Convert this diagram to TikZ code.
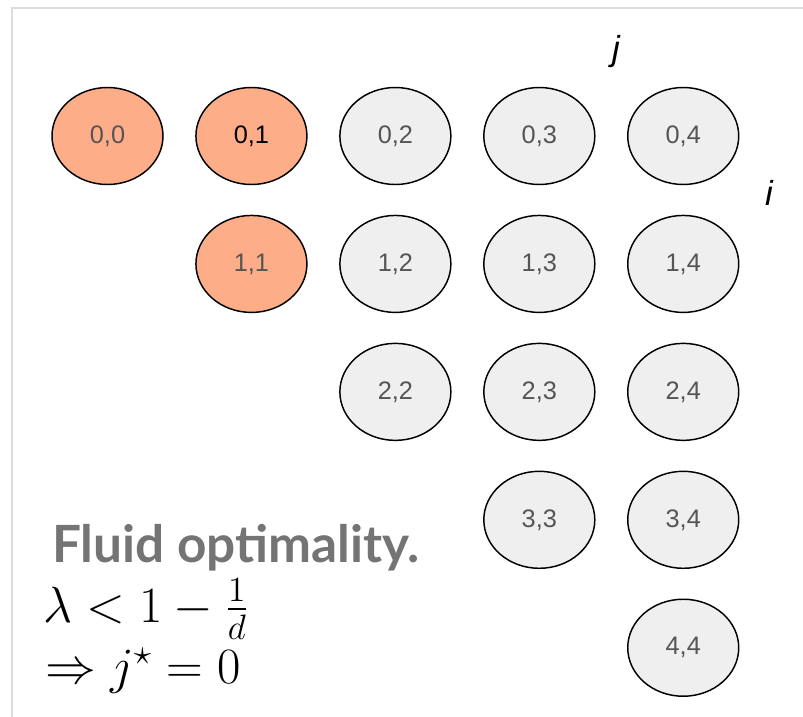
\RequirePackage{fix-cm}
\documentclass[tikz,border=0pt]{standalone}
\usepackage{fontspec}
\setsansfont{Liberation Sans}
\newfontfamily\headfont{Lato}
\usepackage{amsmath}
\usetikzlibrary{positioning, shapes.geometric}
\definecolor{cellgray}{HTML}{EFEFEF}
\definecolor{cellorange}{HTML}{FDAD88}
\definecolor{labelgray}{HTML}{555555}
\definecolor{headgray}{HTML}{747474}
\definecolor{framegray}{HTML}{DCDCDC}

\begin{document}
\begin{tikzpicture}[
		x=0.75pt, y=-0.75pt,
		node distance=22.1pt and 23.6pt,
		cell/.style={ellipse, draw, line width=1.1pt, fill=cellgray, minimum width=83.25pt, minimum height=72.75pt, inner sep=0pt, text=labelgray, font=\sffamily\fontsize{19}{22}\selectfont},
		hot/.style={cell, fill=cellorange},
		axis label/.style={font=\sffamily\itshape\fontsize{26}{30}\selectfont, inner sep=0pt},
		formula/.style={anchor=base west, inner sep=0pt, font=\fontsize{20.74}{25}\selectfont}
	]
	\useasboundingbox (0,0) rectangle (803,717);
	% frame of the slide
	\draw[framegray, line width=1.5pt] (11.5,717) -- (11.5,8.5) -- (803,8.5);

	% row 0
	\node[hot] (n00) at (107.5,136) {0,0};
	\node[hot, text=black, right=of n00] (n01) {0,1};
	\node[cell, right=of n01] (n02) {0,2};
	\node[cell, right=of n02] (n03) {0,3};
	\node[cell, right=of n03] (n04) {0,4};
	% row 1
	\node[hot, below=of n01] (n11) {1,1};
	\node[cell, below=of n02] (n12) {1,2};
	\node[cell, below=of n03] (n13) {1,3};
	\node[cell, below=of n04] (n14) {1,4};
	% row 2
	\node[cell, below=of n12] (n22) {2,2};
	\node[cell, below=of n13] (n23) {2,3};
	\node[cell, below=of n14] (n24) {2,4};
	% row 3
	\node[cell, below=of n23] (n33) {3,3};
	\node[cell, below=of n24] (n34) {3,4};
	% row 4
	\node[cell, below=of n34] (n44) {4,4};

	% axis labels
	\node[axis label] (jlab) at (616,52) {j};
	\node[axis label] (ilab) at (769,193) {i};

	% caption
	\node[anchor=base west, inner sep=0pt, text=headgray, font=\headfont\bfseries\fontsize{38.5}{42}\selectfont] (title) at (52,562) {Fluid optimality.};
	\node[formula] (cond) at (43,622) {\scalebox{1.84}{$\lambda < 1 - \frac{1}{d}$}};
	\node[formula] (res) at (45,683) {\scalebox{1.84}{$\Rightarrow j^{\star} = 0$}};
\end{tikzpicture}
\end{document}
